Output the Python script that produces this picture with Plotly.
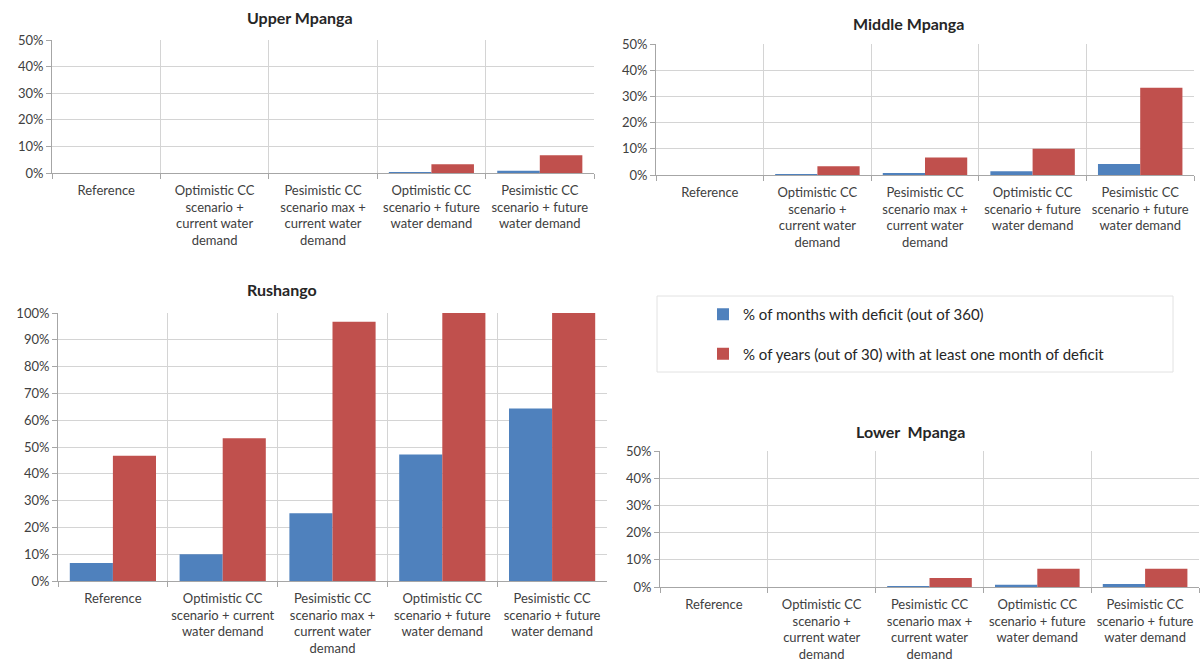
import plotly.graph_objects as go

W, H = 1203, 666

# Scenarios shown on every panel
categories = [
    "Reference",
    "Optimistic CC scenario + current water demand",
    "Pesimistic CC scenario max + current water demand",
    "Optimistic CC scenario + future water demand",
    "Pesimistic CC scenario + future water demand",
]

# Wrapped tick labels (narrow panels and the wider Rushango panel)
labels_narrow = [
    "Reference",
    "Optimistic CC<br>scenario +<br>current water<br>demand",
    "Pesimistic CC<br>scenario max +<br>current water<br>demand",
    "Optimistic CC<br>scenario + future<br>water demand",
    "Pesimistic CC<br>scenario + future<br>water demand",
]
labels_wide = [
    "Reference",
    "Optimistic CC<br>scenario + current<br>water demand",
    "Pesimistic CC<br>scenario max +<br>current water<br>demand",
    "Optimistic CC<br>scenario + future<br>water demand",
    "Pesimistic CC<br>scenario + future<br>water demand",
]

series_names = [
    "% of months with deficit (out of 360)",
    "% of years (out of 30) with at least one month of deficit",
]

# Values in percent
upper_months = [0, 0, 0, 0.3, 0.8]
upper_years = [0, 0, 0, 3.3, 6.7]
middle_months = [0, 0.3, 0.6, 1.4, 4.2]
middle_years = [0, 3.3, 6.7, 10.0, 33.3]
rushango_months = [6.7, 10.0, 25.3, 47.2, 64.4]
rushango_years = [46.7, 53.3, 96.7, 100, 100]
lower_months = [0, 0, 0.3, 0.8, 1.1]
lower_years = [0, 0, 3.3, 6.7, 6.7]

BLUE = "#4F81BD"
RED = "#C0504D"
GRID = "#d4d4d4"
AXIS = "#a6a6a6"
FONT = "Lato"

def px_x(a, b):
    return [a / W, b / W]

def px_y(top, bottom):
    return [(H - bottom) / H, (H - top) / H]

panels = [
    # title, months, years, ticktext, ymax, x-domain px, y-domain px, title pos
    ("Upper Mpanga", upper_months, upper_years, labels_narrow, 50, (52, 594), (40, 173), (300, 18)),
    ("Middle Mpanga", middle_months, middle_years, labels_narrow, 50, (656, 1194), (44, 175), (908, 24)),
    ("Rushango", rushango_months, rushango_years, labels_wide, 100, (58, 607), (313, 581), (282, 289)),
    ("Lower  Mpanga", lower_months, lower_years, labels_narrow, 50, (660, 1199), (451, 587), (910, 431)),
]

fig = go.Figure()
layout = dict(
    width=W, height=H,
    margin=dict(l=0, r=0, t=0, b=0, pad=0, autoexpand=False),
    paper_bgcolor="white", plot_bgcolor="white",
    barmode="group", bargap=0.215, bargroupgap=0,
    font=dict(family=FONT, size=13, color="#404040"),
    showlegend=True,
    annotations=[], shapes=[],
)

for i, (title, months, years, ticktext, ymax, xd, yd, tpos) in enumerate(panels):
    n = "" if i == 0 else str(i + 1)
    xa, ya = "x" + n, "y" + n
    fig.add_trace(go.Bar(x=categories, y=months, name=series_names[0], marker_color=BLUE,
                         marker_line_width=0, xaxis=xa, yaxis=ya, showlegend=(i == 0),
                         legendgroup="months"))
    fig.add_trace(go.Bar(x=categories, y=years, name=series_names[1], marker_color=RED,
                         marker_line_width=0, xaxis=xa, yaxis=ya, showlegend=(i == 0),
                         legendgroup="years"))
    layout["xaxis" + n] = dict(
        domain=px_x(*xd), anchor=ya, type="category", automargin=False,
        tickmode="array", tickvals=categories, ticktext=ticktext,
        tickson="boundaries", ticks="outside", ticklen=5, tickcolor=AXIS,
        showgrid=True, gridcolor=GRID, gridwidth=1,
        showline=True, linecolor=AXIS, linewidth=1,
        tickfont=dict(family=FONT, size=13, color="#404040"), tickangle=0,
        ticklabelstandoff=5,
        range=[-0.5, 4.5], fixedrange=True,
    )
    layout["yaxis" + n] = dict(
        domain=px_y(*yd), anchor=xa, automargin=False,
        range=[0, ymax], dtick=10, ticksuffix="%",
        ticks="outside", ticklen=5, tickcolor=AXIS,
        showgrid=True, gridcolor=GRID, gridwidth=1,
        showline=True, linecolor=AXIS, linewidth=1, zeroline=False,
        tickfont=dict(family=FONT, size=13, color="#404040"),
        fixedrange=True,
    )
    layout["annotations"].append(dict(
        text="<b>" + title + "</b>", xref="paper", yref="paper",
        x=tpos[0] / W, y=(H - tpos[1]) / H, xanchor="center", yanchor="middle",
        showarrow=False, font=dict(family=FONT, size=16, color="#262626"),
    ))

# Legend frame
layout["shapes"].append(dict(
    type="rect", xref="paper", yref="paper",
    x0=657 / W, x1=1173 / W, y0=(H - 372) / H, y1=(H - 296) / H,
    line=dict(color="#e2e2e2", width=1), fillcolor="rgba(0,0,0,0)",
))

layout["legend"] = dict(
    x=703 / W, y=(H - 298) / H, xanchor="left", yanchor="top",
    bgcolor="rgba(0,0,0,0)", borderwidth=0,
    font=dict(family=FONT, size=15, color="#262626"),
    tracegroupgap=17, itemwidth=30,
)

fig.update_layout(**layout)
fig.write_html("out.html")
